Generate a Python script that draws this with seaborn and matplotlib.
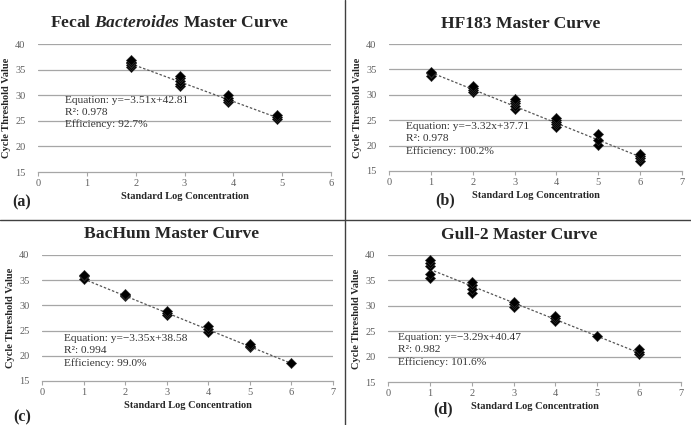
import numpy as np
import pandas as pd
import matplotlib
matplotlib.use('Agg')
import matplotlib.pyplot as plt
import seaborn as sns
from matplotlib.lines import Line2D

# --- data ---
titles = ["Fecal $\\mathit{Bacteroides}$ Master Curve", "HF183 Master Curve",
          "BacHum Master Curve", "Gull-2 Master Curve"]
panel_tags = ["(a)", "(b)", "(c)", "(d)"]
x_max = [6, 7, 7, 7]

conc_a = [1.9, 2.9, 3.9, 4.9]
ct_a = [[35.6, 35.9, 36.2, 36.5, 36.8],
        [31.7, 32.2, 32.8, 33.3, 33.8],
        [28.6, 29.0, 29.5, 30.0],
        [25.3, 25.7, 26.1]]

conc_b = [1, 2, 3, 4, 5, 6]
ct_b = [[33.7, 34.2, 34.5],
        [30.5, 31.0, 31.4, 31.8],
        [27.2, 27.8, 28.3, 28.8, 29.2],
        [23.7, 24.2, 24.7, 25.1, 25.4],
        [20.2, 21.2, 22.3],
        [17.0, 17.6, 18.0, 18.4]]

conc_c = [1, 2, 3, 4, 5, 6]
ct_c = [[35.3, 35.8, 36.0],
        [31.8, 32.0, 32.2],
        [28.0, 28.4, 28.8],
        [24.8, 25.4, 26.0],
        [21.7, 22.0, 22.3],
        [18.5]]

conc_d = [1, 2, 3, 4, 5, 6]
ct_d = [[35.5, 36.3, 37.8, 38.5, 39.0],
        [32.5, 33.3, 34.0, 34.6],
        [29.8, 30.3, 30.7],
        [27.0, 27.6, 28.0],
        [24.0],
        [20.5, 21.0, 21.4]]

slopes = [-3.51, -3.32, -3.35, -3.29]
intercepts = [42.81, 37.71, 38.58, 40.47]
r_squared = [0.978, 0.978, 0.994, 0.982]
efficiency = [92.7, 100.2, 99.0, 101.6]

# --- layout (pixel boxes of the plot areas in a 691x425 image) ---
W, H = 691, 425
axes_px = [(38, 44, 331, 172), (389, 44, 682, 171),
           (42, 255, 333, 381), (388, 255, 681, 382)]
title_px = [(170, 23), (521, 24), (172, 234), (519, 235)]
tag_px = [(22, 202), (445, 200), (22, 417), (443, 409)]
eq_pos = [(0.55, 29.9), (0.41, 24.6), (0.53, 24.3), (0.24, 24.6)]

sns.set_theme(style="white")
plt.rcParams['font.family'] = ['Liberation Serif', 'DejaVu Serif']
plt.rcParams['mathtext.fontset'] = 'custom'
plt.rcParams['mathtext.it'] = 'Liberation Serif:italic:bold'
plt.rcParams['mathtext.rm'] = 'Liberation Serif:bold'

fig = plt.figure(figsize=(W / 100, H / 100), dpi=100)

all_conc = [conc_a, conc_b, conc_c, conc_d]
all_ct = [ct_a, ct_b, ct_c, ct_d]

for i in range(4):
    x0, y0, x1, y1 = axes_px[i]
    ax = fig.add_axes([x0 / W, 1 - y1 / H, (x1 - x0) / W, (y1 - y0) / H])

    df = pd.DataFrame({
        'conc': [c for c, vals in zip(all_conc[i], all_ct[i]) for _ in vals],
        'ct': [v for vals in all_ct[i] for v in vals],
    })
    xs = np.array([df['conc'].min(), df['conc'].max()])
    fit = pd.DataFrame({'conc': xs, 'ct': slopes[i] * xs + intercepts[i]})

    sns.lineplot(data=fit, x='conc', y='ct', ax=ax, color='#555555',
                 lw=0.9, linestyle=(0, (2, 1.5)), zorder=2)
    sns.scatterplot(data=df, x='conc', y='ct', ax=ax, marker='D', s=27,
                    color='black', edgecolor='#333333', linewidth=0.4, zorder=3)

    ax.set_xlim(0, x_max[i])
    ax.set_ylim(15, 40)
    ax.set_xticks(range(0, x_max[i] + 1))
    ax.set_yticks(range(15, 41, 5))
    for yv in range(20, 41, 5):
        ax.axhline(yv, color='#a6a6a6', lw=0.9, zorder=1)
    for s in ['top', 'right', 'left']:
        ax.spines[s].set_visible(False)
    ax.spines['bottom'].set_color('#a6a6a6')
    ax.spines['bottom'].set_linewidth(0.9)
    ax.tick_params(axis='x', bottom=True, length=3, width=0.8,
                   color='#a6a6a6', labelsize=7.5, labelcolor='#606060', pad=2)
    ax.tick_params(axis='y', left=False, labelsize=7.5, labelcolor='#606060', pad=3)

    ax.set_xlabel('Standard Log Concentration', fontsize=7.5,
                  fontweight='bold', labelpad=3)
    ax.set_ylabel('Cycle Threshold Value', fontsize=7.5,
                  fontweight='bold', labelpad=3)

    ax.text(eq_pos[i][0], eq_pos[i][1],
            f"Equation: y=\u2212{abs(slopes[i]):.2f}x+{intercepts[i]:.2f}\n"
            f"R\u00b2: {r_squared[i]:.3f}\nEfficiency: {efficiency[i]:.1f}%",
            fontsize=8.2, va='top', ha='left', color='#333333',
            linespacing=1.4, zorder=4)

    tx, ty = title_px[i]
    fig.text(tx / W, 1 - ty / H, titles[i], fontsize=12.6, fontweight='bold',
             ha='center', va='center')
    gx, gy = tag_px[i]
    fig.text(gx / W, 1 - gy / H, panel_tags[i], fontsize=11.5,
             fontweight='bold', ha='center', va='center')

# divider lines between panels
fig.add_artist(Line2D([345 / W, 345 / W], [0, 1], color='#404040', lw=1))
fig.add_artist(Line2D([0, 1], [1 - 220 / H, 1 - 220 / H], color='#404040', lw=1))

fig.savefig('out.png', dpi=100)
